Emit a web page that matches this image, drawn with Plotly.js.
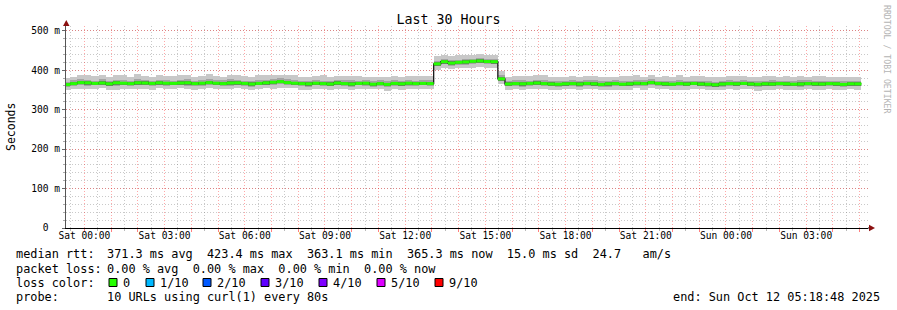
<!DOCTYPE html>
<html>
<head>
<meta charset="utf-8">
<script src="https://cdn.plot.ly/plotly-3.0.1.min.js"></script>
<style>
  html, body { margin: 0; padding: 0; background: #ffffff; }
  #chart { width: 897px; height: 310px; }
</style>
</head>
<body>
<div id="chart"></div>
<script>
// ---------------- DATA ----------------
// 16-minute consolidated steps, first step starts Fri 2025-10-10 23:12
const stepStart = '2025-10-10 23:12:00';
const stepMinutes = 16;

// median RTT per step (ms)
const medianRtt = [
  363.5,366.0,368.5,368.0,366.5,367.5,365.5,368.0,367.0,366.0,
  368.0,367.5,366.5,368.0,367.0,366.5,367.5,368.0,366.0,367.0,
  368.5,367.0,366.0,367.5,368.0,366.5,365.0,366.5,368.0,369.5,
  371.0,368.5,367.0,366.0,365.5,367.0,366.0,365.0,367.5,366.0,
  365.0,366.5,367.0,364.5,366.0,364.0,366.5,365.5,367.0,366.0,
  366.5,366.0,
  416.0,421.5,418.0,420.0,421.0,422.5,423.4,422.0,421.5,
  378.0,
  365.0,366.0,365.5,366.5,367.5,366.0,365.0,364.5,
  365.5,366.0,365.0,366.5,365.5,364.0,365.5,366.0,364.5,365.5,
  367.0,366.0,368.5,366.5,365.5,364.5,366.0,365.0,366.5,365.0,
  364.5,363.1,365.0,366.0,365.5,366.5,365.0,364.5,365.5,365.0,
  366.0,365.5,364.5,365.0,366.0,365.5,365.0,366.0,365.5,364.0,
  365.5,365.3
];

// smoke: spread of the slowest ping above the median (ms)
const smokeMaxAbove = [
  16,17,20,19,18,21,17,19,20,18, 22,19,17,20,19,18,21,20,17,19,
  22,18,17,20,19,18,17,21,19,18, 17,19,20,18,17,19,21,18,17,19,
  20,18,17,19,18,20,19,17,18,19, 18,19,
  20,16,17,18,17,16,18,17,16,
  21,
  17,19,20,18,21,22,19,18,
  17,20,19,18,21,20,17,18,20,19, 22,18,20,17,19,18,21,19,18,20,
  17,19,18,20,21,19,18,17,19,20, 18,19,17,21,18,19,20,18,17,19,
  18,17
];
// smoke: spread of the fastest ping below the median (ms)
const smokeMinBelow = [
  14,13,15,16,14,13,15,17,14,13, 15,14,16,13,15,14,13,16,15,14,
  13,15,14,16,13,14,15,13,14,16, 15,14,13,15,16,14,13,15,14,13,
  16,14,15,13,14,16,13,15,14,13, 14,13,
  15,17,16,15,16,17,15,16,16,
  14,
  15,14,16,13,15,14,16,15,
  13,14,16,15,14,13,16,15,14,15, 13,16,14,15,13,14,16,15,14,13,
  15,14,16,13,15,14,13,16,15,14, 13,15,14,16,13,15,14,13,15,14,
  13,15
];
// inner smoke (middle pings) above / below the median (ms)
const smokeMidAbove = [
  7,8,9,8,7,9,7,8,9,7, 9,8,7,8,9,7,8,9,7,8,
  9,7,8,9,8,7,7,9,8,7, 8,9,8,7,8,9,7,8,7,8,
  9,7,8,7,8,9,8,7,8,7, 8,8,
  8,7,8,7,8,7,8,7,7,
  9,
  7,8,9,7,8,9,8,7,
  8,9,7,8,9,8,7,8,9,7, 9,8,8,7,8,7,9,8,7,8,
  7,8,7,9,8,8,7,7,8,9, 7,8,7,9,8,7,8,7,8,8,
  7,7
];
const smokeMidBelow = [
  6,5,6,7,5,6,6,7,5,6, 6,5,7,6,6,5,6,7,5,6,
  6,5,6,7,5,6,7,5,6,6, 7,6,5,6,7,5,6,6,5,6,
  7,5,6,6,5,7,6,5,6,6, 5,6,
  6,7,7,6,7,7,6,7,6,
  6,
  6,5,7,6,6,5,6,7,
  5,6,7,6,5,6,7,6,5,6, 6,7,5,6,6,5,7,6,5,6,
  6,5,7,6,6,5,6,7,6,5, 6,6,5,7,6,5,6,6,5,6,
  6,6
];

const viewStart = '2025-10-10 23:18:48';
const viewEnd   = '2025-10-12 05:18:48';

const xTickTimes = ['2025-10-11 00:00','2025-10-11 03:00','2025-10-11 06:00','2025-10-11 09:00',
  '2025-10-11 12:00','2025-10-11 15:00','2025-10-11 18:00','2025-10-11 21:00',
  '2025-10-12 00:00','2025-10-12 03:00'];
const xTickLabels = ['Sat 00:00','Sat 03:00','Sat 06:00','Sat 09:00','Sat 12:00',
  'Sat 15:00','Sat 18:00','Sat 21:00','Sun 00:00','Sun 03:00'];

const yTickVals = [0, 100, 200, 300, 400, 500];
const yTickText = ['0\u00a0\u00a0', '100 m', '200 m', '300 m', '400 m', '500 m'];

const lossLabels = ['0', '1/10', '2/10', '3/10', '4/10', '5/10', '9/10'];
const lossColors = ['#26ff00', '#00b8ff', '#0059ff', '#5e00ff', '#7e00ff', '#dd00ff', '#ff0000'];

const statsLine = '371.3 ms avg  423.4 ms max  363.1 ms min  365.3 ms now  15.0 ms sd  24.7   am/s';
const lossLine  = '0.00 % avg  0.00 % max  0.00 % min  0.00 % now';
const probeLine = '10 URLs using curl(1) every 80s';
const endLine   = 'end: Sun Oct 12 05:18:48 2025';

// ---------------- LAYOUT HELPERS ----------------
const W = 897, H = 310;
const M = { l: 66, r: 29, t: 26, b: 82 };
const PW = W - M.l - M.r, PH = H - M.t - M.b;
const PX = x => (x - M.l) / PW;
const PY = y => (H - M.b - y) / PH;
const MONO = 'DejaVu Sans Mono';

function toMs(s) {
  const [d, t] = s.split(' ');
  const [Y, Mo, D] = d.split('-').map(Number);
  const [h, mi, se] = (t + ':0').split(':').map(Number);
  return Date.UTC(Y, Mo - 1, D, h, mi, se || 0);
}
const stepMs = stepMinutes * 60000;
const t0 = toMs(stepStart);
const times = medianRtt.map((_, i) => t0 + i * stepMs);

function band(lowArr, highArr, color) {
  return {
    type: 'bar', x: times, base: lowArr, y: highArr.map((h, i) => h - lowArr[i]),
    width: stepMs, offset: 0, marker: { color: color, line: { width: 0 } },
    hoverinfo: 'skip', showlegend: false
  };
}

const outerLo = medianRtt.map((m, i) => m - smokeMinBelow[i]);
const outerHi = medianRtt.map((m, i) => m + smokeMaxAbove[i]);
const midLo = medianRtt.map((m, i) => m - smokeMidBelow[i]);
const midHi = medianRtt.map((m, i) => m + smokeMidAbove[i]);
const coreLo = medianRtt.map(m => m - 4.6);
const coreHi = medianRtt.map(m => m + 4.2);

// black median line (step shape) and green per-step segments on top
const lineX = times.concat([times[times.length - 1] + stepMs]);
const lineY = medianRtt.concat([medianRtt[medianRtt.length - 1]]);
const segX = [], segY = [];
times.forEach((t, i) => { segX.push(t, t + stepMs, null); segY.push(medianRtt[i], medianRtt[i], null); });

const traces = [
  band(outerLo, outerHi, '#c8c8c8'),
  band(midLo, midHi, '#a4a4a4'),
  band(coreLo, coreHi, '#6e6e6e'),
  { type: 'scatter', mode: 'lines', x: lineX, y: lineY, line: { shape: 'hv', color: '#1a1a1a', width: 1.3 },
    hoverinfo: 'skip', showlegend: false },
  { type: 'scatter', mode: 'lines', x: segX, y: segY, connectgaps: false,
    line: { color: lossColors[0], width: 3 }, hoverinfo: 'skip', showlegend: false },
  { type: 'scatter', mode: 'lines', x: [viewStart, viewEnd], y: [null, null], xaxis: 'x2',
    hoverinfo: 'skip', showlegend: false }
];

const annotations = [];
function txt(x, y, text, extra) {
  annotations.push(Object.assign({
    xref: 'paper', yref: 'paper', x: PX(x), y: PY(y), text: text, showarrow: false,
    xanchor: 'left', yanchor: 'middle', borderpad: 0,
    font: { family: MONO, size: 11.86, color: '#000' }
  }, extra || {}));
}
const nb = s => s.replace(/ /g, '\u00a0');
txt(15, 254.5, nb('median rtt:'));
txt(106, 254.5, nb(statsLine));
txt(15, 268.5, nb('packet loss:'));
txt(106, 268.5, nb(lossLine));
txt(15, 282.5, nb('loss color:'));
txt(15, 296.5, nb('probe:'));
txt(106, 296.5, nb(probeLine));
txt(881, 296.5, nb(endLine), { xanchor: 'right' });

const swatchX = [109, 146, 203, 261, 319, 377, 435];
const shapes = [];
lossLabels.forEach((lab, i) => {
  shapes.push({ type: 'rect', xref: 'paper', yref: 'paper',
    x0: PX(swatchX[i]), x1: PX(swatchX[i] + 8), y0: PY(286.5), y1: PY(278.5),
    fillcolor: lossColors[i], line: { color: '#000', width: 1 } });
  txt(swatchX[i] + 13, 282.5, lab);
});

// y label and watermark
annotations.push({ xref: 'paper', yref: 'paper', x: PX(11), y: PY(127), text: 'Seconds',
  textangle: -90, showarrow: false, xanchor: 'center', yanchor: 'middle',
  font: { family: MONO, size: 11.5, color: '#000' } });
annotations.push({ xref: 'paper', yref: 'paper', x: PX(887), y: PY(59), text: nb('RRDTOOL / TOBI OETIKER'),
  textangle: 90, showarrow: false, xanchor: 'center', yanchor: 'middle',
  font: { family: MONO, size: 8.2, color: '#b4b4b4' } });

// axis extensions and arrows
shapes.push({ type: 'line', xref: 'paper', yref: 'paper', x0: 0, x1: 0, y0: 1, y1: PY(23),
  line: { color: '#555', width: 1 } });
shapes.push({ type: 'line', xref: 'paper', yref: 'paper', x0: 1, x1: PX(871), y0: 0, y1: 0,
  line: { color: '#000', width: 1 } });
shapes.push({ type: 'path', xref: 'paper', yref: 'paper',
  path: `M ${PX(63)} ${PY(26)} L ${PX(69.5)} ${PY(26)} L ${PX(66.3)} ${PY(20)} Z`,
  fillcolor: '#8b1010', line: { width: 0 } });
shapes.push({ type: 'path', xref: 'paper', yref: 'paper',
  path: `M ${PX(869)} ${PY(224.8)} L ${PX(869)} ${PY(231.2)} L ${PX(875)} ${PY(228)} Z`,
  fillcolor: '#8b1010', line: { width: 0 } });

const majorGrid = 'rgba(255,0,0,0.34)';
const minorGrid = 'rgba(120,120,120,0.4)';
const dotDash = '1px,2px';

const layout = {
  width: W, height: H, margin: M,
  paper_bgcolor: '#ffffff', plot_bgcolor: '#ffffff',
  barmode: 'overlay', bargap: 0, showlegend: false,
  title: { text: 'Last 30 Hours', font: { family: MONO, size: 13.3, color: '#000' },
    x: 0.5, xref: 'container', xanchor: 'center', y: 1 - 19 / H, yref: 'container', yanchor: 'middle' },
  xaxis: {
    type: 'date', range: [viewStart, viewEnd], fixedrange: true,
    tickmode: 'linear', tick0: '2025-10-11 00:00', dtick: 3600000,
    showticklabels: false, ticks: 'outside', ticklen: 3, tickcolor: 'rgba(255,0,0,0.5)',
    showgrid: true, gridcolor: majorGrid, griddash: dotDash, gridwidth: 1,
    minor: { tickmode: 'linear', tick0: '2025-10-11 00:00', dtick: 1800000, showgrid: true,
      gridcolor: minorGrid, griddash: dotDash, gridwidth: 1, ticks: 'outside', ticklen: 2, tickcolor: '#bbb' },
    showline: true, linecolor: '#000', linewidth: 1, zeroline: false
  },
  xaxis2: {
    type: 'date', range: [viewStart, viewEnd], fixedrange: true, overlaying: 'x', anchor: 'y', side: 'bottom',
    tickmode: 'array', tickvals: xTickTimes, ticktext: xTickLabels, ticks: '',
    showgrid: false, showline: false, zeroline: false,
    tickfont: { family: MONO, size: 9.6, color: '#000' }
  },
  yaxis: {
    range: [0, 512], fixedrange: true,
    tickmode: 'array', tickvals: yTickVals, ticktext: yTickText,
    tickfont: { family: MONO, size: 9.6, color: '#000' },
    ticks: 'outside', ticklen: 3, tickcolor: '#666',
    showgrid: true, gridcolor: majorGrid, griddash: dotDash, gridwidth: 1,
    minor: { tickmode: 'linear', tick0: 0, dtick: 20, showgrid: true, gridcolor: minorGrid,
      griddash: dotDash, gridwidth: 1, ticks: 'outside', ticklen: 2, tickcolor: '#aaa' },
    showline: true, linecolor: '#555', linewidth: 1, zeroline: false
  },
  annotations: annotations,
  shapes: shapes
};

Plotly.newPlot('chart', traces, layout, { staticPlot: true, displayModeBar: false });
</script>
</body>
</html>
